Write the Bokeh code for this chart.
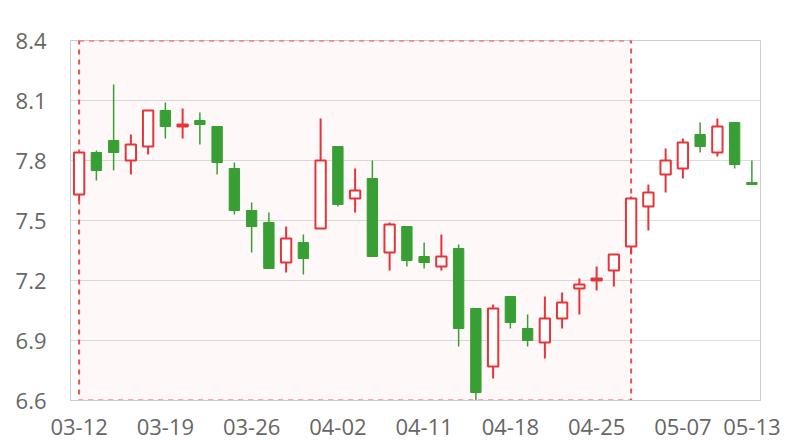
from bokeh.plotting import figure
from bokeh.models import Range1d, FixedTicker, ColumnDataSource
from bokeh.embed import file_html
from bokeh.resources import INLINE

dates = ["03-12", "03-13", "03-14", "03-15", "03-18", "03-19", "03-20", "03-21", "03-22", "03-25",
         "03-26", "03-27", "03-28", "03-29", "04-01", "04-02", "04-03", "04-08", "04-09", "04-10",
         "04-11", "04-12", "04-15", "04-16", "04-17", "04-18", "04-19", "04-22", "04-23", "04-24",
         "04-25", "04-26", "04-29", "04-30", "05-06", "05-07", "05-08", "05-09", "05-10", "05-13"]
opens = [7.63, 7.84, 7.90, 7.80, 7.87, 8.05, 7.97, 8.00, 7.97, 7.76,
         7.55, 7.49, 7.29, 7.39, 7.46, 7.87, 7.61, 7.71, 7.34, 7.47,
         7.32, 7.27, 7.36, 7.06, 6.77, 7.12, 6.96, 6.89, 7.01, 7.16,
         7.20, 7.25, 7.37, 7.57, 7.73, 7.76, 7.93, 7.84, 7.99, 7.69]
closes = [7.84, 7.75, 7.84, 7.88, 8.05, 7.97, 7.98, 7.98, 7.79, 7.55,
          7.47, 7.26, 7.41, 7.31, 7.80, 7.58, 7.65, 7.32, 7.48, 7.30,
          7.29, 7.32, 6.96, 6.64, 7.06, 6.99, 6.90, 7.01, 7.09, 7.18,
          7.21, 7.33, 7.61, 7.64, 7.80, 7.89, 7.87, 7.97, 7.78, 7.68]
highs = [7.84, 7.85, 8.18, 7.93, 8.05, 8.09, 8.06, 8.04, 7.97, 7.79,
         7.59, 7.54, 7.47, 7.43, 8.01, 7.87, 7.76, 7.80, 7.49, 7.47,
         7.39, 7.43, 7.38, 7.06, 7.08, 7.12, 7.03, 7.12, 7.14, 7.21,
         7.27, 7.33, 7.62, 7.68, 7.86, 7.91, 7.99, 8.01, 7.99, 7.80]
lows = [7.60, 7.70, 7.75, 7.73, 7.83, 7.91, 7.91, 7.88, 7.73, 7.53,
        7.34, 7.26, 7.24, 7.23, 7.46, 7.57, 7.54, 7.32, 7.25, 7.27,
        7.26, 7.25, 6.87, 6.60, 6.71, 6.96, 6.87, 6.81, 6.96, 7.03,
        7.15, 7.17, 7.33, 7.45, 7.64, 7.71, 7.84, 7.82, 7.76, 7.68]
y_ticks = [6.6, 6.9, 7.2, 7.5, 7.8, 8.1, 8.4]
x_tick_idx = [0, 5, 10, 15, 20, 25, 30, 35, 39]
area_start = "03-12"
area_end = "04-29"

RED = "#e5353a"
GREEN = "#389f34"
FONT = "Open Sans"

idx = list(range(len(dates)))
up = [c >= o for o, c in zip(opens, closes)]

def sub(mask):
    return ColumnDataSource(dict(
        x=[i for i, m in zip(idx, mask) if m],
        o=[v for v, m in zip(opens, mask) if m],
        c=[v for v, m in zip(closes, mask) if m],
        h=[v for v, m in zip(highs, mask) if m],
        l=[v for v, m in zip(lows, mask) if m],
        top=[max(a, b) for a, b, m in zip(opens, closes, mask) if m],
        bot=[min(a, b) for a, b, m in zip(opens, closes, mask) if m],
    ))

src_up = sub(up)
src_dn = sub([not u for u in up])

p = figure(width=800, height=440, output_backend="svg", toolbar_location=None,
           x_range=Range1d(-0.5, len(dates) - 0.5), y_range=Range1d(y_ticks[0], y_ticks[-1]),
           min_border_left=70, min_border_right=40, min_border_top=40, min_border_bottom=40,
           frame_width=690, frame_height=360)
p.background_fill_color = "white"
p.border_fill_color = "white"
p.outline_line_color = "#cccccc"
p.outline_line_width = 1

# mark area
a0 = dates.index(area_start)
a1 = dates.index(area_end)
p.quad(left=[a0], right=[a1], bottom=[y_ticks[0]], top=[y_ticks[-1]],
       fill_color="#ff0000", fill_alpha=0.028, line_color="#ee5050", line_alpha=1.0,
       line_width=2, line_dash="5 5")

# wicks
p.segment(x0="x", y0="h", x1="x", y1="l", source=src_up, line_color=RED, line_width=2)
p.segment(x0="x", y0="h", x1="x", y1="l", source=src_dn, line_color=GREEN, line_width=1.5)
# bodies
p.vbar(x="x", top="top", bottom="bot", width=0.6, source=src_up,
       fill_color="white", line_color=RED, line_width=2)
p.vbar(x="x", top="top", bottom="bot", width=0.6, source=src_dn,
       fill_color=GREEN, line_color=GREEN, line_width=1)

p.xgrid.grid_line_color = None
p.ygrid.grid_line_color = "#dddddd"
p.ygrid.grid_line_width = 1

p.yaxis.ticker = FixedTicker(ticks=y_ticks)
p.yaxis.major_label_overrides = {t: f"{t:.1f}" for t in y_ticks}
p.xaxis.ticker = FixedTicker(ticks=x_tick_idx)
p.xaxis.major_label_overrides = {i: dates[i] for i in x_tick_idx}

for ax in (p.xaxis, p.yaxis):
    ax.axis_line_color = "#cccccc"
    ax.major_tick_line_color = None
    ax.minor_tick_line_color = None
    ax.major_label_text_font = FONT
    ax.major_label_text_font_size = "22px"
    ax.major_label_text_color = "#666666"
p.yaxis.major_label_standoff = 18
p.xaxis.major_label_standoff = 12

open("out.html", "w").write(file_html(p, INLINE))
